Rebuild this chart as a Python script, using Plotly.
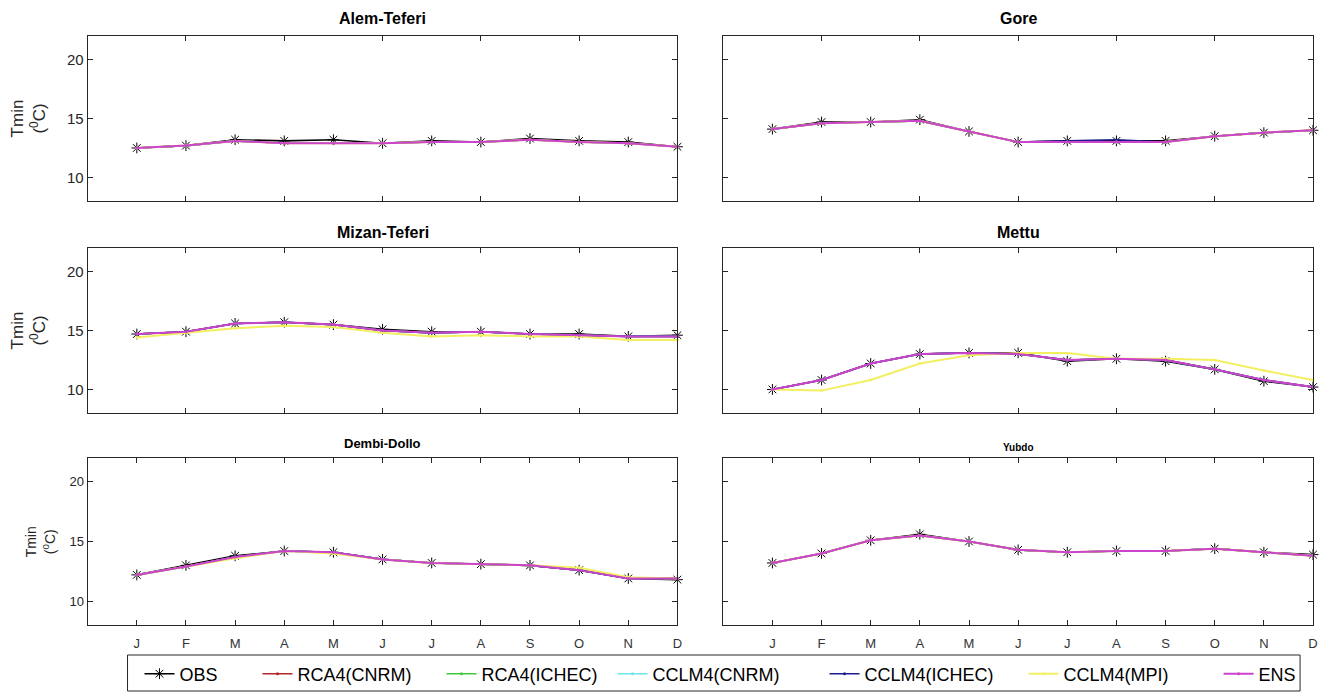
import plotly.graph_objects as go

W, H = 1325, 693

months = ["J", "F", "M", "A", "M", "J", "J", "A", "S", "O", "N", "D"]
month_idx = [1, 2, 3, 4, 5, 6, 7, 8, 9, 10, 11, 12]
stations = ["Alem-Teferi", "Gore", "Mizan-Teferi", "Mettu", "Dembi-Dollo", "Yubdo"]
series_names = ["OBS", "RCA4(CNRM)", "RCA4(ICHEC)", "CCLM4(CNRM)", "CCLM4(ICHEC)", "CCLM4(MPI)", "ENS"]

# Tmin (deg C) per station
obs_alem = [12.5, 12.7, 13.2, 13.1, 13.2, 12.9, 13.1, 13.0, 13.3, 13.1, 13.0, 12.6]
ens_alem = [12.5, 12.7, 13.1, 12.9, 12.9, 12.9, 13.0, 13.0, 13.2, 13.0, 12.9, 12.6]
mpi_alem = [12.5, 12.7, 13.1, 12.9, 12.9, 12.9, 13.0, 13.0, 13.2, 13.0, 12.9, 12.6]

obs_gore = [14.1, 14.7, 14.7, 14.9, 13.9, 13.0, 13.1, 13.1, 13.1, 13.5, 13.8, 14.0]
ens_gore = [14.1, 14.6, 14.7, 14.8, 13.9, 13.0, 13.0, 13.0, 13.0, 13.5, 13.8, 14.0]
mpi_gore = [14.1, 14.6, 14.7, 14.8, 13.9, 13.0, 13.0, 13.0, 13.0, 13.5, 13.8, 14.0]
iche_gore = [14.1, 14.6, 14.7, 14.8, 13.9, 13.0, 13.1, 13.2, 13.0, 13.5, 13.8, 14.0]

obs_mizan = [14.7, 14.9, 15.6, 15.7, 15.5, 15.1, 14.9, 14.9, 14.7, 14.7, 14.5, 14.6]
ens_mizan = [14.7, 14.9, 15.6, 15.7, 15.5, 15.0, 14.8, 14.9, 14.7, 14.6, 14.5, 14.5]
mpi_mizan = [14.4, 14.8, 15.2, 15.4, 15.3, 14.8, 14.5, 14.6, 14.5, 14.5, 14.2, 14.2]

obs_mettu = [10.0, 10.8, 12.2, 13.0, 13.1, 13.1, 12.4, 12.6, 12.4, 11.7, 10.7, 10.2]
ens_mettu = [10.0, 10.8, 12.2, 13.0, 13.1, 13.0, 12.5, 12.6, 12.5, 11.7, 10.8, 10.2]
mpi_mettu = [10.0, 9.9, 10.8, 12.2, 12.9, 13.1, 13.1, 12.6, 12.6, 12.5, 11.6, 10.8]

obs_dembi = [12.2, 13.0, 13.8, 14.2, 14.1, 13.5, 13.2, 13.1, 13.0, 12.6, 11.9, 11.8]
ens_dembi = [12.2, 12.9, 13.7, 14.2, 14.1, 13.5, 13.2, 13.1, 13.0, 12.6, 11.9, 11.9]
mpi_dembi = [12.2, 12.9, 13.6, 14.2, 14.0, 13.5, 13.2, 13.1, 13.0, 12.8, 12.0, 11.9]

obs_yubdo = [13.2, 14.0, 15.1, 15.6, 15.0, 14.3, 14.1, 14.2, 14.2, 14.4, 14.1, 13.9]
ens_yubdo = [13.2, 14.0, 15.1, 15.5, 15.0, 14.3, 14.1, 14.2, 14.2, 14.4, 14.1, 13.8]
mpi_yubdo = [13.2, 14.0, 15.1, 15.5, 15.0, 14.3, 14.1, 14.2, 14.2, 14.4, 14.1, 13.8]

# the other models lie under the ENS line in the picture
station_series = {
    "Alem-Teferi": [obs_alem, ens_alem, ens_alem, ens_alem, ens_alem, mpi_alem, ens_alem],
    "Gore": [obs_gore, ens_gore, ens_gore, ens_gore, iche_gore, mpi_gore, ens_gore],
    "Mizan-Teferi": [obs_mizan, ens_mizan, ens_mizan, ens_mizan, ens_mizan, mpi_mizan, ens_mizan],
    "Mettu": [obs_mettu, ens_mettu, ens_mettu, ens_mettu, ens_mettu, mpi_mettu, ens_mettu],
    "Dembi-Dollo": [obs_dembi, ens_dembi, ens_dembi, ens_dembi, ens_dembi, mpi_dembi, ens_dembi],
    "Yubdo": [obs_yubdo, ens_yubdo, ens_yubdo, ens_yubdo, ens_yubdo, mpi_yubdo, ens_yubdo],
}

colors = ["#000000", "#b02828", "#3ccc3c", "#70e4e8", "#1c1c8c", "#f2f060", "#cc44cc"]
# trailing no-break spaces spread the legend entries like the reference
legend_pad = [7, 5, 2, 8, 5, 9, 0]

FONT = "Liberation Sans"
INK = "#262626"

# panel pixel boxes (left, right) and (top, bottom)
col_x = [(88, 680), (726, 1318)]
row_y = [(36, 201), (248, 413), (458, 625)]

fig = go.Figure()
layout = dict(
    width=W, height=H,
    margin=dict(l=0, r=0, t=0, b=0),
    paper_bgcolor="white", plot_bgcolor="white",
    font=dict(family=FONT, color=INK),
    showlegend=True,
)

annotations = []
shapes = []

for i, st in enumerate(stations):
    r, c = divmod(i, 2)
    n = i + 1
    xa = "x" if n == 1 else f"x{n}"
    ya = "y" if n == 1 else f"y{n}"
    x0, x1 = col_x[c]
    y0, y1 = row_y[r]
    bottom = (r == 2)

    xax = dict(
        domain=[x0 / W, x1 / W], anchor=ya, range=[0, 12],
        tickmode="array",
        showticklabels=bottom,
        ticks="inside", ticklen=5, tickcolor=INK,
        showline=True, linecolor=INK, linewidth=1, mirror="ticks",
        showgrid=False, zeroline=False,
        ticklabelstandoff=6,
        tickfont=dict(size=13, family=FONT, color="#333333"),
    )
    if bottom:
        xax["tickvals"] = month_idx
        xax["ticktext"] = months
    else:
        xax["tickvals"] = [2, 4, 6, 8, 10, 12]
    layout[f"xaxis{'' if n == 1 else n}"] = xax
    layout[f"yaxis{'' if n == 1 else n}"] = dict(
        domain=[1 - y1 / H, 1 - y0 / H], anchor=xa, range=[8, 22],
        tickvals=[10, 15, 20],
        showticklabels=(c == 0),
        ticks="inside", ticklen=5, tickcolor=INK,
        showline=True, linecolor=INK, linewidth=1, mirror="ticks",
        showgrid=False, zeroline=False,
        tickfont=dict(size=15 if r < 2 else 13, family=FONT, color=INK),
    )

    vals = station_series[st]
    for k, name in enumerate(series_names):
        if k == 0:
            marker = dict(symbol="asterisk-open", size=9, color="#000000",
                          line=dict(color="#000000", width=1))
        else:
            marker = dict(symbol="circle", size=3, color=colors[k])
        fig.add_trace(go.Scatter(
            x=month_idx, y=vals[k], name=name + "\u00a0" * legend_pad[k],
            mode="lines+markers",
            line=dict(color=colors[k], width=2 if k in (5, 6) else 1.6),
            marker=marker, xaxis=xa, yaxis=ya, cliponaxis=False,
            showlegend=(i == 0), legendgroup=name,
        ))

    # panel titles
    tsize = 16 if r < 2 else (13 if c == 0 else 10)
    ty = {0: 18, 1: 232, 2: 444}[r]
    if r == 2 and c == 1:
        ty = 447
    annotations.append(dict(
        text=f"<b>{st}</b>", x=(x0 + x1) / 2 / W, y=1 - ty / H,
        xref="paper", yref="paper", xanchor="center", yanchor="middle",
        showarrow=False, font=dict(size=tsize, family=FONT, color="#000000"),
    ))

    # y-axis titles on the left column
    if c == 0:
        ysize = 17 if r < 2 else 14
        xc = 29 if r < 2 else 40
        annotations.append(dict(
            text="Tmin<br>(<sup>0</sup>C)", x=xc / W, y=1 - ((y0 + y1) / 2) / H,
            xref="paper", yref="paper", xanchor="center", yanchor="middle",
            textangle=-90, showarrow=False,
            font=dict(size=ysize, family=FONT, color=INK),
        ))

# legend box
shapes.append(dict(type="rect", xref="paper", yref="paper",
                   x0=128 / W, x1=1305 / W, y0=1 - 691 / H, y1=1 - 655 / H,
                   line=dict(color=INK, width=1), fillcolor="rgba(0,0,0,0)"))

layout["annotations"] = annotations
layout["shapes"] = shapes
layout["legend"] = dict(
    orientation="h", x=140 / W, xanchor="left", y=1 - 674 / H, yanchor="middle",
    font=dict(size=18, family=FONT, color="#000000"),
    bgcolor="rgba(0,0,0,0)", borderwidth=0, itemwidth=30,
    traceorder="normal", tracegroupgap=0,
)

fig.update_layout(**layout)
fig.write_html("out.html")
